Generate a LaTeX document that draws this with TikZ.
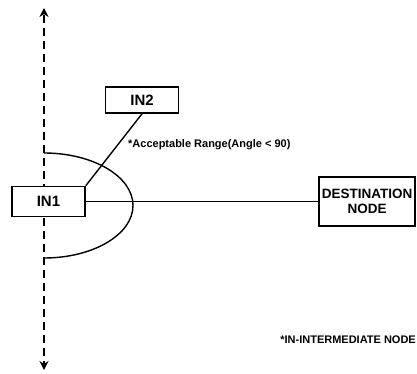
\documentclass[tikz,border=0pt]{standalone}
\usepackage{fontspec}
\setmainfont{Liberation Sans}
\usetikzlibrary{arrows.meta, positioning}

\begin{document}
\begin{tikzpicture}[
    x=1pt, y=-1pt,
    box/.style={rectangle, draw, line width=1.6pt, fill=white, inner sep=0pt,
                align=center, font=\bfseries},
    inbox/.style={box, minimum width=73pt, minimum height=30pt,
                  font=\fontsize{15}{16}\selectfont\bfseries},
    axis/.style={dashed, line width=1.4pt, dash pattern=on 8pt off 5pt,
                 -{Stealth[length=9pt, width=9pt]}},
    conn/.style={line width=1.4pt},
    note/.style={font=\fontsize{11}{12}\selectfont\bfseries, anchor=west, inner sep=0pt},
]
\useasboundingbox (0,0) rectangle (417,374);

% Axis through IN1
\coordinate (axmid) at (44,205);
\coordinate (axtop) at (44,8);
\coordinate (axbot) at (44,370);
\draw[axis] (axmid) -- (axtop);
\draw[axis] (axmid) -- (axbot);

% Acceptable range
\coordinate (arcstart) at (44,153);
\draw[conn] (arcstart) arc[start angle=-90, end angle=90, x radius=89, y radius=52.5];

% Nodes
\node[inbox] (in1) at (48.5,201.5) {IN1};
\node[inbox, minimum height=26pt] (in2) at (142,100) {IN2};
\node[box, minimum width=96pt, minimum height=49pt,
      font=\fontsize{13.5}{15}\selectfont\bfseries] (dest) at (367,201.5) {DESTINATION\\NODE};

% Links
\draw[conn] (in1.north east) -- (in2.south);
\draw[conn] (in1) -- (dest);

% Notes
\node[note] (range) at (128,145) {*Acceptable Range(Angle < 90)};
\node[note, anchor=east] (legend) at (416,340) {*IN-INTERMEDIATE NODE};

\end{tikzpicture}
\end{document}
